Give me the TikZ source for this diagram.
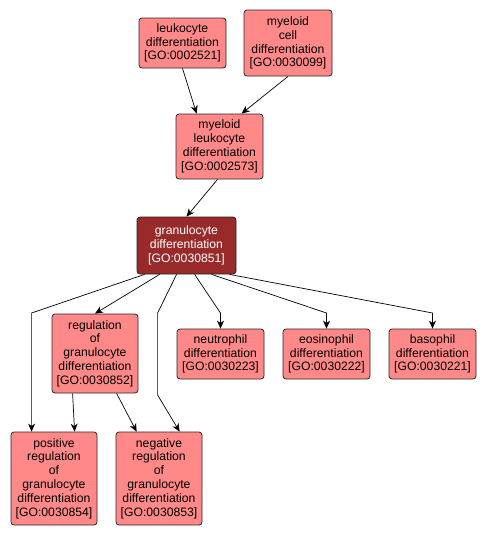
\documentclass[tikz,border=0pt]{standalone}
\usepackage{fontspec}
\setmainfont{Liberation Sans}
\usepackage{xcolor}
\usetikzlibrary{arrows.meta, positioning, calc}

\definecolor{goterm}{RGB}{255,137,137}
\definecolor{goquery}{RGB}{152,42,42}

\begin{document}
\begin{tikzpicture}[
  x=1pt, y=-1pt,
  box/.style={rectangle, draw=black!85, rounded corners=3pt, fill=goterm, align=center,
    minimum width=87pt, inner sep=0pt, line width=0.8pt, font=\fontsize{12.2}{13.8}\selectfont},
  qbox/.style={box, fill=goquery, text=white, minimum width=99pt},
  arr/.style={-{Stealth[length=8pt, width=7pt, inset=2.5pt]}, line width=0.7pt}
]
\useasboundingbox (0,0) rectangle (486,536);

\node[box, minimum height=50pt] (leuk) at (182.5,43) {leukocyte\\differentiation\\{[GO:0002521]}};
\node[box, minimum height=66pt, minimum width=88pt] (mcell) at (288,43) {myeloid\\cell\\differentiation\\{[GO:0030099]}};
\node[box, minimum height=65pt] (mleuk) at (219.5,146.5) {myeloid\\leukocyte\\differentiation\\{[GO:0002573]}};

\node[qbox, minimum height=57pt] (gran) at (186.5,245.5) {granulocyte\\differentiation\\{[GO:0030851]}};

\node[box, minimum height=79pt, minimum width=86pt] (reg) at (95,353.5) {regulation\\of\\granulocyte\\differentiation\\{[GO:0030852]}};
\node[box, minimum height=50pt] (neut) at (220.5,354) {neutrophil\\differentiation\\{[GO:0030223]}};
\node[box, minimum height=50pt] (eos) at (326.5,354) {eosinophil\\differentiation\\{[GO:0030222]}};
\node[box, minimum height=50pt] (baso) at (432.5,354) {basophil\\differentiation\\{[GO:0030221]}};

\node[box, minimum height=93pt, minimum width=86pt] (pos) at (54,478.5) {positive\\regulation\\of\\granulocyte\\differentiation\\{[GO:0030854]}};
\node[box, minimum height=93pt, minimum width=86pt] (neg) at (159,478.5) {negative\\regulation\\of\\granulocyte\\differentiation\\{[GO:0030853]}};

% row where the long edges turn
\coordinate (turn) at (0,313);

\draw[arr] (leuk.south) -- ([xshift=21pt]mleuk.north west);
\draw[arr] (mcell.south) -- ([xshift=66pt]mleuk.north west);
\draw[arr] ([xshift=-2pt]mleuk.south) -- (gran.north);

\draw[arr] ([xshift=8pt]gran.south west) -- ([xshift=21pt]pos.north west |- turn) -- ([xshift=21pt]pos.north west);
\draw[arr] ([xshift=23pt]gran.south west) -- (reg.north);
\draw[arr] ([xshift=40pt]gran.south west) -- ([xshift=42pt]neg.north west |- turn) -- ++(0,82) -- ([xshift=64pt]neg.north west);
\draw[arr] ([xshift=58pt]gran.south west) -- (neut.north |- turn) -- (neut.north);
\draw[arr] ([xshift=75pt]gran.south west) -- (eos.north |- turn) -- (eos.north);
\draw[arr] ([xshift=93pt]gran.south west) -- (baso.north |- turn) -- (baso.north);

\draw[arr] ([xshift=21pt]reg.south west) -- ([xshift=64pt]pos.north west);
\draw[arr] ([xshift=65pt]reg.south west) -- ([xshift=21pt]neg.north west);
\end{tikzpicture}
\end{document}
